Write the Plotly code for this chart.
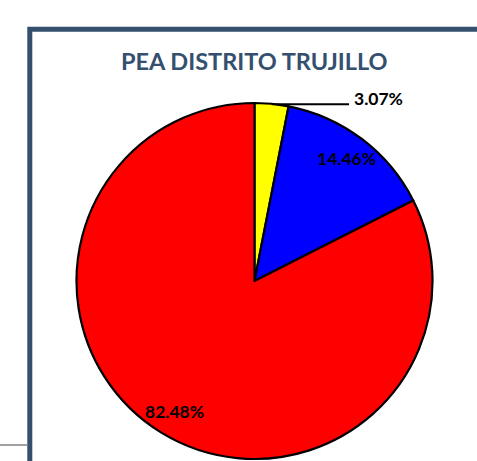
import math
import plotly.graph_objects as go

# Data
categories = ["Categoría A", "Categoría B", "Categoría C"]
values = [3.07, 14.46, 82.48]
colors = ["#FFFF00", "#0000FF", "#FF0000"]
title_text = "PEA DISTRITO TRUJILLO"

W, H = 477, 461
CX, CY, R = 254.5, 281.0, 178.0  # page-pixel geometry of the pie

def px_x(x):
    return x / W

def px_y(y):
    return (H - y) / H

fig = go.Figure()
fig.add_trace(go.Pie(
    labels=categories,
    values=values,
    sort=False,
    direction="clockwise",
    rotation=0,
    marker=dict(colors=colors, line=dict(color="black", width=2.2)),
    textinfo="none",
    hoverinfo="label+percent",
    showlegend=False,
    domain=dict(x=[px_x(CX - R), px_x(CX + R)], y=[px_y(CY + R), px_y(CY - R)]),
))

# Label positions derived from the slice angles
total = sum(values)
annotations = []
shapes = []
start = 0.0
font = dict(family="Lato", size=17.5, color="black", weight="bold")
for i, v in enumerate(values):
    frac = v / total
    mid = (start + frac / 2) * 2 * math.pi
    start += frac
    label = f"{v:.2f}%"
    if frac < 0.05:
        px = CX + R * math.sin(mid)
        py = CY - R * math.cos(mid)
        shapes.append(dict(type="line", xref="paper", yref="paper",
                           x0=px_x(px), y0=px_y(py + 0.5), x1=px_x(349), y1=px_y(py + 0.5),
                           line=dict(color="black", width=2)))
        annotations.append(dict(x=px_x(352), y=px_y(py - 5), xref="paper", yref="paper",
                                text=label, showarrow=False, xanchor="left", yanchor="middle",
                                font=font))
    else:
        px = CX + 0.86 * R * math.sin(mid)
        py = CY - 0.86 * R * math.cos(mid)
        annotations.append(dict(x=px_x(px), y=px_y(py), xref="paper", yref="paper",
                                text=label, showarrow=False, xanchor="center", yanchor="middle",
                                font=font))

# Title
annotations.append(dict(x=px_x(CX), y=px_y(61), xref="paper", yref="paper",
                        text=title_text, showarrow=False, xanchor="center", yanchor="middle",
                        font=dict(family="Lato", size=23.5, color="#34506E", weight="bold")))

# Chart frame and stray line
shapes.append(dict(type="rect", xref="paper", yref="paper",
                   x0=px_x(29.8), y0=px_y(540), x1=px_x(560), y1=px_y(29.2),
                   line=dict(color="#34506E", width=5), fillcolor="rgba(0,0,0,0)", layer="below"))
shapes.append(dict(type="line", xref="paper", yref="paper",
                   x0=0, y0=px_y(445), x1=px_x(27), y1=px_y(445),
                   line=dict(color="#808080", width=1.5)))

fig.update_layout(
    width=W, height=H,
    margin=dict(l=0, r=0, t=0, b=0),
    paper_bgcolor="white",
    plot_bgcolor="white",
    annotations=annotations,
    shapes=shapes,
)

fig.write_html("out.html",
               config={"displayModeBar": False},
               post_script="document.body.style.margin='0';document.body.style.overflow='hidden';")
